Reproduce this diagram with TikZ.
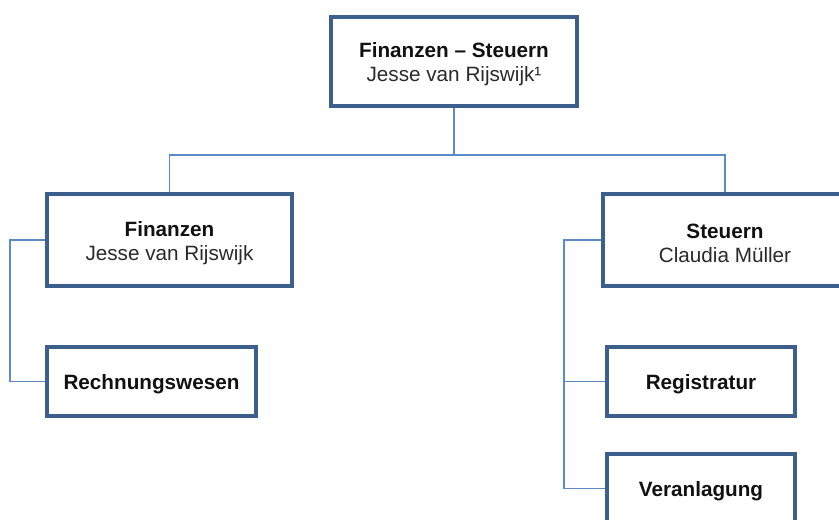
\documentclass[tikz,border=0pt]{standalone}
\usepackage{fontspec}
\setmainfont{Liberation Sans}
\definecolor{boxblue}{HTML}{3D5F8C}
\definecolor{lineblue}{HTML}{5B8BC9}
\definecolor{txt}{HTML}{111111}
\definecolor{txtn}{HTML}{2A2A2A}
\begin{document}
\begin{tikzpicture}[x=1pt,y=-1pt,
  box/.style={draw=boxblue, line width=4pt, fill=white, inner sep=0pt},
  lbl/.style={align=center, inner sep=0pt, yshift=-3pt,
    font=\fontsize{20.7}{24}\selectfont, text=txt},
  conn/.style={draw=lineblue, line width=1.3pt}]
\useasboundingbox (0,0) rectangle (839,520);
\clip (0,0) rectangle (839,520);
\fill[white] (0,0) rectangle (839,520);
% boxes
\node[box, minimum width=246pt, minimum height=89pt,
  label={[lbl]center:{\textbf{Finanzen – Steuern}\\\textcolor{txtn}{Jesse van Rijswijk¹}}}] (top) at (454,61.5) {};
\node[box, minimum width=245pt, minimum height=92pt,
  label={[lbl]center:{\textbf{Finanzen}\\\textcolor{txtn}{Jesse van Rijswijk}}}] (fin) at (169.5,240) {};
\node[box, minimum width=209pt, minimum height=69pt,
  label={[lbl]center:{\textbf{Rechnungswesen}}}] (rech) at (151.5,381.5) {};
\node[box, minimum width=244pt, minimum height=92pt,
  label={[lbl]center:{\textbf{Steuern}\\\textcolor{txtn}{Claudia Müller}}}] (st) at (725,240) {};
\node[box, minimum width=188pt, minimum height=69pt,
  label={[lbl]center:{\textbf{Registratur}}}] (reg) at (701,381.5) {};
\node[box, minimum width=188pt, minimum height=69pt,
  label={[lbl]center:{\textbf{Veranlagung}}}] (ver) at (701,488.5) {};
% connectors
\coordinate (bus) at (454,155);
\coordinate (lb) at (10,240);
\coordinate (rb) at (564,240);
\draw[conn] (top.south) -- (bus);
\draw[conn] (fin.north) |- (bus) -| (st.north);
\draw[conn] (fin.west) -- (lb) |- (rech.west);
\draw[conn] (st.west) -- (rb) |- (ver.west);
\draw[conn] (rb) |- (reg.west);
\end{tikzpicture}
\end{document}
